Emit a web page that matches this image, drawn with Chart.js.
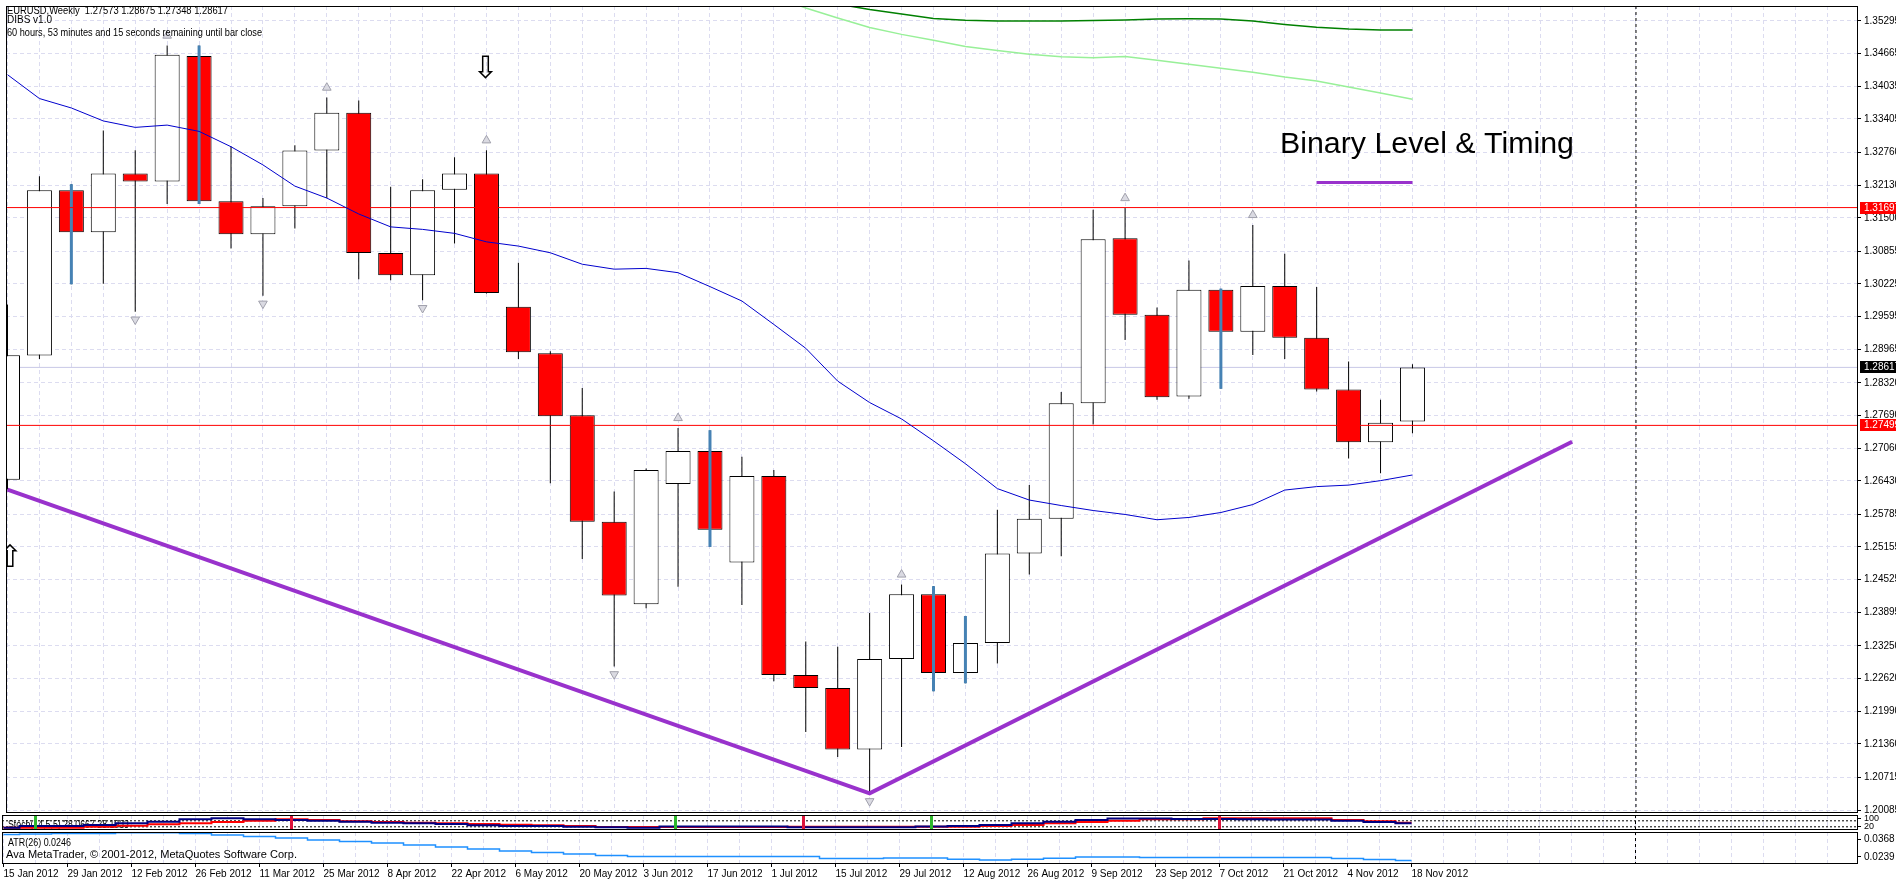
<!DOCTYPE html>
<html>
<head>
<meta charset="utf-8">
<title>EURUSD Weekly</title>
<script src="https://cdn.jsdelivr.net/npm/chart.js@4.4.0/dist/chart.umd.min.js"></script>
<style>
  html, body { margin: 0; padding: 0; background: #fff; }
  #wrap { position: relative; width: 1896px; height: 880px; overflow: hidden; background: #fff; }
  #wrap canvas { position: absolute; left: 0; top: 0; }
</style>
</head>
<body>
<div id="wrap">
  <canvas id="mainChart" width="1896" height="880"></canvas>
  <canvas id="stochChart" width="1896" height="880"></canvas>
  <canvas id="atrChart" width="1896" height="880"></canvas>
</div>
<script>
// weekly bars, EURUSD
var weeks = ["15 Jan 2012","22 Jan 2012","29 Jan 2012","5 Feb 2012","12 Feb 2012","19 Feb 2012","26 Feb 2012",
  "4 Mar 2012","11 Mar 2012","18 Mar 2012","25 Mar 2012","1 Apr 2012","8 Apr 2012","15 Apr 2012","22 Apr 2012",
  "29 Apr 2012","6 May 2012","13 May 2012","20 May 2012","27 May 2012","3 Jun 2012","10 Jun 2012","17 Jun 2012",
  "24 Jun 2012","1 Jul 2012","8 Jul 2012","15 Jul 2012","22 Jul 2012","29 Jul 2012","5 Aug 2012","12 Aug 2012",
  "19 Aug 2012","26 Aug 2012","2 Sep 2012","9 Sep 2012","16 Sep 2012","23 Sep 2012","30 Sep 2012","7 Oct 2012",
  "14 Oct 2012","21 Oct 2012","28 Oct 2012","4 Nov 2012","11 Nov 2012","18 Nov 2012"];

var openP  = [1.26453,1.28845,1.32029,1.31223,1.32355,1.32201,1.34618,1.31818,1.31185,1.31722,1.32796,1.33525,1.30820,1.30391,1.32040,
  1.32355,1.29785,1.28889,1.27694,1.25642,1.24050,1.26370,1.27004,1.24855,1.26524,1.22688,1.22439,1.21250,1.22995,1.24242,
  1.22726,1.23302,1.25028,1.25699,1.27924,1.31108,1.29631,1.28058,1.30111,1.29305,1.30187,1.29190,1.28193,1.27176,1.27573];
var highP  = [1.29829,1.32303,1.32149,1.33185,1.32802,1.34821,1.34821,1.32873,1.31881,1.32897,1.33818,1.33761,1.32098,1.32245,1.32667,
  1.32802,1.30634,1.28927,1.28218,1.26223,1.26670,1.27450,1.27406,1.26894,1.26639,1.23332,1.23231,1.23883,1.24433,1.24401,
  1.23825,1.25872,1.26351,1.28141,1.31657,1.31689,1.29771,1.30678,1.30135,1.31363,1.30807,1.30168,1.28730,1.27993,1.28675];
var lowP   = [1.26261,1.28780,1.30218,1.30231,1.29689,1.31766,1.31766,1.30909,1.29996,1.31292,1.31881,1.30314,1.30295,1.29911,1.31004,
  1.30040,1.28780,1.26382,1.24924,1.22853,1.23973,1.24387,1.25155,1.24036,1.22565,1.21587,1.21108,1.20406,1.21299,1.22373,
  1.22527,1.22910,1.24625,1.24976,1.27514,1.29144,1.27993,1.28012,1.28204,1.28856,1.28780,1.28154,1.26862,1.26574,1.27348];
var closeP = [1.28850,1.32029,1.31223,1.32355,1.32201,1.34643,1.31818,1.31185,1.31722,1.32796,1.33525,1.30820,1.30391,1.32029,1.32355,
  1.30053,1.28908,1.27675,1.25642,1.24222,1.26639,1.27004,1.25488,1.26524,1.22688,1.22439,1.21250,1.22995,1.24242,1.22726,
  1.23302,1.25028,1.25699,1.27924,1.31089,1.29631,1.28039,1.30111,1.29305,1.30187,1.29190,1.28193,1.27176,1.27552,1.28617];

var maValues = [1.34259,1.33799,1.33617,1.33367,1.33243,1.33287,1.33166,1.32870,1.32520,1.32111,1.31881,1.31574,1.31325,1.31277,1.31200,
  1.31037,1.30955,1.30826,1.30605,1.30510,1.30525,1.30442,1.30174,1.29896,1.29445,1.28985,1.28352,1.27939,1.27623,1.27201,
  1.26760,1.26280,1.26060,1.25954,1.25858,1.25782,1.25680,1.25724,1.25820,1.25973,1.26252,1.26319,1.26348,1.26434,1.26543];

var darkGreenStart = 25;
var darkGreen = [1.35900,1.35620,1.35516,1.35429,1.35343,1.35308,1.35295,1.35295,1.35295,1.35305,1.35314,1.35333,1.35339,1.35333,
  1.35295,1.35228,1.35174,1.35138,1.35122,1.35122];
var lightGreenStart = 24;
var lightGreen = [1.35775,1.35544,1.35353,1.35170,1.35036,1.34921,1.34802,1.34725,1.34651,1.34605,1.34585,1.34610,1.34537,1.34461,
  1.34384,1.34307,1.34215,1.34138,1.34020,1.33904,1.33786];

var priceTicks = [1.35295,1.34665,1.34035,1.33405,1.32760,1.32130,1.31500,1.30855,1.30225,1.29595,1.28965,1.28320,1.27690,
  1.27060,1.26430,1.25785,1.25155,1.24525,1.23895,1.23250,1.22620,1.21990,1.21360,1.20715,1.20085];
var redLevels = [1.31697, 1.27499];
var dibsBars = [2, 6, 22, 29, 30, 38];
var fractalUp = [5, 10, 15, 21, 28, 35, 39];
var fractalDown = [4, 8, 13, 19, 27];
var trendBars = [0, 27, 49];
var trendPrices = [1.26260, 1.20406, 1.27182];
var legendBars = [41, 44];
var legendPrice = 1.32182;

var stochMain   = [11,27,27,36,52,67,89,98,89,83,76,67,58,52,46,34,27,27,21,15,11,22,22,22,22,17,17,17,17,22,
  27,36,52,67,83,95,95,92,92,89,86,86,76,64,52];
var stochSignal = [11,11,11,21,30,43,52,64,76,89,83,71,64,58,52,46,39,34,27,18,18,19,19,19,19,20,20,20,20,20,
  21,27,36,52,64,76,89,89,98,98,98,98,83,71,58];
var stochUpCross = [1, 21, 29];
var stochDownCross = [9, 25, 38];
var stochLevels = [75, 20];
var stochTicks = [100, 75, 20];

var atrValues = [0.04003,0.04039,0.04075,0.04075,0.04125,0.04125,0.04075,0.03967,0.03860,0.03752,0.03608,0.03501,0.03393,0.03250,
  0.03107,0.02963,0.02820,0.02713,0.02605,0.02498,0.02426,0.02426,0.02426,0.02426,0.02426,0.02426,0.02282,0.02282,0.02318,
  0.02318,0.02225,0.02175,0.02225,0.02297,0.02390,0.02390,0.02354,0.02354,0.02354,0.02354,0.02354,0.02354,0.02282,0.02211,0.02139];
var atrTicks = [0.0368, 0.0239];

var SLOTS = 58;             // bars that fit across the window
var SHIFT_BAR = 51;         // dashed period separator
var X_MIN = -1.5 / 32;
var X_MAX = X_MIN + SLOTS;
var FONT = '"Liberation Sans", Arial, sans-serif';
var GRID = '#dcdcf0';

var idx = weeks.map(function (w, i) { return i; });
var slots = [];
for (var s = 0; s < SLOTS; s++) slots.push(s);

function xAxis(withLabels) {
  return {
    type: 'linear', min: X_MIN, max: X_MAX, offset: false,
    afterBuildTicks: function (sc) { sc.ticks = slots.map(function (v) { return { value: v }; }); },
    afterFit: function (sc) { sc.height = withLabels ? 16 : 0; sc.paddingLeft = 0; sc.paddingRight = 0; },
    grid: {
      offset: false, color: GRID, drawTicks: withLabels, tickLength: 3,
      tickColor: function (c) { return (c.index % 2 === 0 && c.index < weeks.length) ? '#000' : 'rgba(0,0,0,0)'; }
    },
    border: { display: false, dash: [4, 3] },
    ticks: {
      display: withLabels, autoSkip: false, maxRotation: 0, minRotation: 0, align: 'start', padding: 1,
      color: '#000', font: { size: 10, family: FONT },
      callback: function (v, i) { return (i % 2 === 0 && weeks[i]) ? weeks[i] : ''; }
    }
  };
}

function yAxis(min, max, ticks, digits, showGrid, size) {
  return {
    position: 'right', min: min, max: max,
    afterBuildTicks: function (sc) { sc.ticks = ticks.map(function (v) { return { value: v }; }); },
    afterFit: function (sc) { sc.width = 38; sc.paddingTop = 0; sc.paddingBottom = 0; },
    grid: { color: GRID, drawOnChartArea: showGrid, tickLength: 3, tickColor: '#000' },
    border: { display: false, dash: [4, 3] },
    ticks: { color: '#000', padding: 3, font: { size: size, family: FONT },
      callback: function (v) { return Number(v).toFixed(digits); } }
  };
}

function fitText(ctx, text, x, y, width, size, family, color) {
  ctx.save();
  ctx.font = size + 'px ' + family;
  ctx.fillStyle = color || '#000';
  ctx.textAlign = 'left';
  ctx.textBaseline = 'alphabetic';
  var w = ctx.measureText(text).width;
  ctx.translate(x, y);
  if (width) ctx.scale(width / w, 1);
  ctx.fillText(text, 0, 0);
  ctx.restore();
}

var framePlugin = {
  id: 'frame',
  afterDraw: function (chart) {
    var a = chart.chartArea, c = chart.ctx;
    c.save();
    c.strokeStyle = '#000';
    c.lineWidth = 1;
    c.strokeRect(a.left + 0.5, a.top + 0.5, a.right - a.left - 1, a.bottom - a.top - 1);
    c.restore();
  }
};

var shiftPlugin = {
  id: 'shiftLine',
  afterDatasetsDraw: function (chart) {
    var a = chart.chartArea, c = chart.ctx;
    var x = chart.scales.x.getPixelForValue(SHIFT_BAR);
    c.save();
    c.strokeStyle = '#000';
    c.lineWidth = 1;
    c.setLineDash([3, 3]);
    c.beginPath();
    c.moveTo(x, a.top);
    c.lineTo(x, a.bottom);
    c.stroke();
    c.restore();
  }
};

function lineSet(data, color, width, order, extra) {
  var ds = { type: 'line', data: data, borderColor: color, borderWidth: width, pointRadius: 0,
    fill: false, tension: 0, order: order };
  for (var k in extra) ds[k] = extra[k];
  return ds;
}

// ---------- main price panel ----------
var mainSets = [];
mainSets.push(lineSet([{ x: X_MIN, y: closeP[closeP.length - 1] }, { x: X_MAX, y: closeP[closeP.length - 1] }],
  '#c8c8e6', 1, 10));
mainSets.push({
  type: 'bar', data: idx.map(function (i) { return { x: i, y: [lowP[i], highP[i]] }; }),
  backgroundColor: '#000', barThickness: 1, grouped: false, inflateAmount: 0, order: 8
});
mainSets.push({
  type: 'bar', data: idx.map(function (i) { return { x: i, y: [openP[i], closeP[i]] }; }),
  backgroundColor: idx.map(function (i) { return closeP[i] >= openP[i] ? '#ffffff' : '#ff0000'; }),
  borderColor: '#000', borderWidth: 1, borderSkipped: false, barThickness: 25, grouped: false,
  inflateAmount: 0, order: 7
});
mainSets.push({
  type: 'bar', data: dibsBars.map(function (i) { return { x: i, y: [lowP[i], highP[i]] }; }),
  backgroundColor: '#4682b4', barThickness: 3, grouped: false, inflateAmount: 0, order: 6
});
redLevels.forEach(function (lv) {
  mainSets.push(lineSet([{ x: X_MIN, y: lv }, { x: X_MAX, y: lv }], '#ff0000', 1, 5));
});
mainSets.push(lineSet(idx.map(function (i) { return { x: i, y: maValues[i] }; }), '#0000cd', 1, 4));
mainSets.push(lineSet(darkGreen.map(function (v, k) { return { x: darkGreenStart + k, y: v }; }), '#008000', 1.5, 4));
mainSets.push(lineSet(lightGreen.map(function (v, k) { return { x: lightGreenStart + k, y: v }; }), '#98f098', 1.5, 4));
mainSets.push(lineSet(fractalUp.map(function (i) { return { x: i, y: highP[i] + 0.0019 }; }), '#a8a8b4', 1, 3,
  { showLine: false, pointRadius: 5, pointStyle: 'triangle', pointBackgroundColor: '#dadae2', pointBorderColor: '#a0a0ac' }));
mainSets.push(lineSet(fractalDown.map(function (i) { return { x: i, y: lowP[i] - 0.0015 }; }), '#a8a8b4', 1, 3,
  { showLine: false, pointRadius: 5, pointStyle: 'triangle', pointRotation: 180, pointBackgroundColor: '#dadae2', pointBorderColor: '#a0a0ac' }));
mainSets.push(lineSet(trendBars.map(function (b, k) { return { x: b, y: trendPrices[k] }; }), '#9932cc', 4, 2));
mainSets.push(lineSet(legendBars.map(function (b) { return { x: b, y: legendPrice }; }), '#9932cc', 3, 2));

var mainText = {
  id: 'mainText',
  afterDraw: function (chart) {
    var c = chart.ctx, xs = chart.scales.x, ys = chart.scales.y, a = chart.chartArea;
    fitText(c, 'EURUSD,Weekly  1.27573 1.28675 1.27348 1.28617', 7, 13.5, 221, 10, FONT);
    fitText(c, 'DIBS v1.0', 7, 23, 45, 10, FONT);
    fitText(c, '60 hours, 53 minutes and 15 seconds remaining until bar close', 7, 35.5, 255, 10, FONT);
    fitText(c, 'Binary Level & Timing', xs.getPixelForValue(39.85), ys.getPixelForValue(1.32740), 294, 30, FONT);

    c.save();
    c.beginPath();
    c.rect(a.left, a.top, a.right - a.left, a.bottom - a.top);
    c.clip();
    c.font = '31px "DejaVu Sans"';
    c.fillStyle = '#000';
    c.textAlign = 'center';
    c.textBaseline = 'middle';
    c.fillText('\u21E9', xs.getPixelForValue(14.97), ys.getPixelForValue(1.34345));
    c.fillText('\u21E7', xs.getPixelForValue(0.08), ys.getPixelForValue(1.24928));
    c.restore();

    // price tags on the axis
    var tags = redLevels.map(function (v) { return { v: v, bg: '#ff0000' }; });
    tags.push({ v: closeP[closeP.length - 1], bg: '#000000' });
    c.save();
    c.font = '10px ' + FONT;
    c.textBaseline = 'middle';
    tags.forEach(function (t) {
      var y = Math.round(ys.getPixelForValue(t.v));
      c.fillStyle = t.bg;
      c.fillRect(a.right + 2, y - 6, 38, 12);
      c.fillStyle = '#fff';
      c.fillText(t.v.toFixed(5), a.right + 6, y + 0.5);
    });
    c.restore();
  }
};

new Chart('mainChart', {
  type: 'bar',
  data: { datasets: mainSets },
  options: {
    responsive: false, animation: false, devicePixelRatio: 1,
    layout: { padding: { left: 2, right: 0, top: 2, bottom: 67 } },
    plugins: { legend: { display: false }, tooltip: { enabled: false } },
    scales: { x: xAxis(false), y: yAxis(1.200275, 1.355827, priceTicks, 5, true, 10) }
  },
  plugins: [framePlugin, shiftPlugin, mainText]
});

// ---------- stochastic panel ----------
var STOCH_MIN = -9.3, STOCH_MAX = 128.2;
var stochSets = [];
stochLevels.forEach(function (lv) {
  stochSets.push(lineSet([{ x: X_MIN, y: lv }, { x: X_MAX, y: lv }], '#000', 1, 9, { borderDash: [2, 2] }));
});
stochSets.push(lineSet(idx.map(function (i) { return { x: i, y: stochSignal[i] }; }), '#ff0000', 2, 4, { stepped: 'middle' }));
stochSets.push(lineSet(idx.map(function (i) { return { x: i, y: stochMain[i] }; }), '#000080', 2, 3, { stepped: 'middle' }));
stochSets.push({
  type: 'bar', data: stochUpCross.map(function (i) { return { x: i, y: [STOCH_MIN, STOCH_MAX] }; }),
  backgroundColor: '#2eb82e', barThickness: 3, grouped: false, inflateAmount: 0, order: 1
});
stochSets.push({
  type: 'bar', data: stochDownCross.map(function (i) { return { x: i, y: [STOCH_MIN, STOCH_MAX] }; }),
  backgroundColor: '#dc143c', barThickness: 3, grouped: false, inflateAmount: 0, order: 1
});

var stochText = {
  id: 'stochText',
  beforeDatasetsDraw: function (chart) {
    fitText(chart.ctx, 'Stoch(14,5,5) 28.0667 28.1933', 8, 828, 121, 10, FONT);
  }
};

new Chart('stochChart', {
  type: 'bar',
  data: { datasets: stochSets },
  options: {
    responsive: false, animation: false, devicePixelRatio: 1,
    layout: { padding: { left: 2, right: 0, top: 815, bottom: 50 } },
    plugins: { legend: { display: false }, tooltip: { enabled: false } },
    scales: { x: xAxis(false), y: yAxis(STOCH_MIN, STOCH_MAX, stochTicks, 0, false, 9) }
  },
  plugins: [stochText, framePlugin, shiftPlugin]
});

// ---------- ATR panel ----------
var atrText = {
  id: 'atrText',
  beforeDatasetsDraw: function (chart) {
    fitText(chart.ctx, 'ATR(26) 0.0246', 8, 845.5, 63, 10, FONT);
    fitText(chart.ctx, 'Ava MetaTrader, \u00A9 2001-2012, MetaQuotes Software Corp.', 6, 858, 291, 10, FONT);
  }
};

new Chart('atrChart', {
  type: 'bar',
  data: {
    datasets: [lineSet(idx.map(function (i) { return { x: i, y: atrValues[i] }; }), '#1e90ff', 1.5, 1, { stepped: 'middle' })]
  },
  options: {
    responsive: false, animation: false, devicePixelRatio: 1,
    layout: { padding: { left: 2, right: 0, top: 832, bottom: 0 } },
    plugins: { legend: { display: false }, tooltip: { enabled: false } },
    scales: { x: xAxis(true), y: yAxis(0.018883, 0.041817, atrTicks, 4, false, 10) }
  },
  plugins: [atrText, framePlugin, shiftPlugin]
});
</script>
</body>
</html>
